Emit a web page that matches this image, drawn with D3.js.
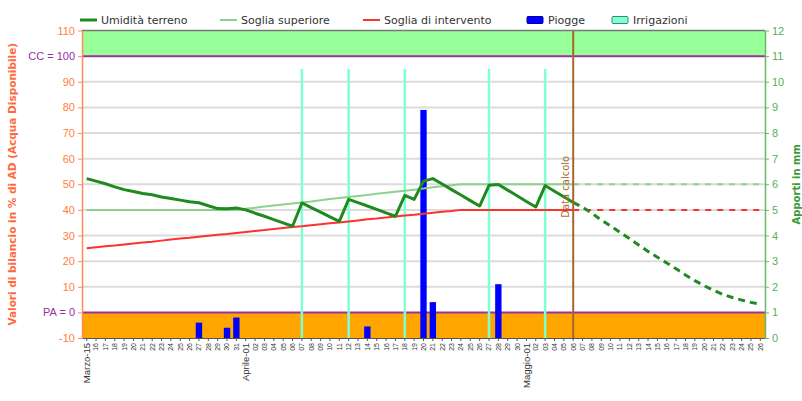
<!DOCTYPE html>
<html><head><meta charset="utf-8">
<script src="https://cdn.jsdelivr.net/npm/d3@7"></script>
<style>
body{margin:0;background:#fff}
svg{font-family:"DejaVu Sans",Verdana,sans-serif}
</style>
</head><body><svg id="c" width="802" height="401"></svg>
<script>
// ---- data ----
const dates = ["Marzo-15","16","17","18","19","20","21","22","23","24","25","26","27","28","29","30","31",
  "Aprile-01","02","03","04","05","06","07","08","09","10","11","12","13","14","15","16","17","18","19","20",
  "21","22","23","24","25","26","27","28","29","30",
  "Maggio-01","02","03","04","05","06","07","08","09","10","11","12","13","14","15","16","17","18","19","20",
  "21","22","23","24","25","26"];
// Umidità terreno (index 0..52, measured)
const umidita = [52.2,51.2,50.2,49.0,47.9,47.2,46.4,45.9,45.0,44.4,43.8,43.2,42.8,41.6,40.5,40.4,40.7,40.0,
  38.7,37.5,36.2,34.9,33.6,42.7,40.9,39.1,37.3,35.5,44.1,42.8,41.5,40.2,38.8,37.5,45.7,44.1,51.2,52.2,
  50.1,47.9,45.8,43.6,41.5,49.6,49.9,47.7,45.5,43.3,41.1,49.5,47.3,45.1,42.9];
// Umidità terreno forecast (index 52..72)
const previsione = [42.9,41.0,38.7,36.0,33.7,31.2,28.8,26.3,23.8,21.5,19.3,17.0,14.6,12.4,10.4,8.6,7.0,5.8,4.8,3.9,3.2];
const sogliaSuperiore = [40,40,40,40,40,40,40,40,40,40,40,40,40,40,40,40,40,40.4,40.8,41.3,41.7,42.1,42.5,42.9,
  43.3,43.8,44.2,44.6,45.0,45.4,45.8,46.3,46.7,47.1,47.5,47.9,48.3,48.8,49.2,49.6,50,50,50,50,50,50,50,50,50,
  50,50,50,50,50,50,50,50,50,50,50,50,50,50,50,50,50,50,50,50,50,50,50,50];
const sogliaIntervento = [25,25.4,25.8,26.1,26.5,26.9,27.3,27.6,28,28.4,28.8,29.1,29.5,29.9,30.3,30.6,31,31.4,
  31.8,32.1,32.5,32.9,33.3,33.6,34,34.4,34.8,35.1,35.5,35.9,36.3,36.6,37,37.4,37.8,38.1,38.5,38.9,39.3,39.6,
  40,40,40,40,40,40,40,40,40,40,40,40,40,40,40,40,40,40,40,40,40,40,40,40,40,40,40,40,40,40,40,40,40];
const pioggeGiorno = [12,15,16,30,36,37,44];
const pioggeMm = [0.6,0.4,0.8,0.45,8.9,1.4,2.1];
const irrigazioniGiorno = [23,28,34,43,49];
const irrigazioniMm = [10.5,10.5,10.5,10.5,10.5];
const dataCalcolo = 52;
const leftTicks = [-10,0,10,20,30,40,50,60,70,80,90,100,110];
const rightTicks = [0,1,2,3,4,5,6,7,8,9,10,11,12];

// ---- layout ----
const L=82,R=765,T=30.5,B=338;
const svg = d3.select('#c');
const x = d3.scaleBand().domain(d3.range(dates.length)).range([L,R]);
const xc = i => x(i)+x.bandwidth()/2;
const y = d3.scaleLinear().domain([-10,110]).range([B,T]);
const y2 = d3.scaleLinear().domain([0,12]).range([B,T]);

// bands
svg.append('rect').attr('x',L).attr('y',y(110)).attr('width',R-L).attr('height',y(100)-y(110)).attr('fill','#99ff99');
svg.append('rect').attr('x',L).attr('y',y(0)).attr('width',R-L).attr('height',y(-10)-y(0)).attr('fill','#ffa500');
// grid
svg.append('g').selectAll('line').data([10,20,30,40,50,60,70,80,90]).join('line')
  .attr('x1',L).attr('x2',R).attr('y1',d=>y(d)).attr('y2',d=>y(d)).attr('stroke','#dcdcdc').attr('stroke-width',2);
svg.append('line').attr('x1',L).attr('x2',R).attr('y1',y(110)).attr('y2',y(110)).attr('stroke','#777').attr('stroke-width',1.5);
svg.append('g').selectAll('line').data([100,0]).join('line')
  .attr('x1',L).attr('x2',R).attr('y1',d=>y(d)).attr('y2',d=>y(d)).attr('stroke','#9b30a0').attr('stroke-width',2);

// irrigations
svg.append('g').selectAll('rect').data(irrigazioniGiorno).join('rect')
  .attr('x',d=>xc(d)-1.25).attr('width',2.5)
  .attr('y',(d,k)=>y2(irrigazioniMm[k])).attr('height',(d,k)=>y2(0)-y2(irrigazioniMm[k]))
  .attr('fill','#7fffd4');
// rain
svg.append('g').selectAll('rect').data(pioggeGiorno).join('rect')
  .attr('x',d=>xc(d)-x.bandwidth()*0.34).attr('width',x.bandwidth()*0.68)
  .attr('y',(d,k)=>y2(pioggeMm[k])).attr('height',(d,k)=>y2(0)-y2(pioggeMm[k]))
  .attr('fill','#0000ff');

// threshold lines
const line = d3.line().x(d=>xc(d[0])).y(d=>y(d[1]));
const solid = arr => arr.map((v,i)=>[i,v]).filter(d=>d[0]<=dataCalcolo);
const dashed = arr => arr.map((v,i)=>[i,v]).filter(d=>d[0]>=dataCalcolo);
svg.append('path').attr('d',line(solid(sogliaSuperiore))).attr('fill','none').attr('stroke','#8fd08f').attr('stroke-width',2);
svg.append('path').attr('d',line(dashed(sogliaSuperiore))).attr('fill','none').attr('stroke','#8fd08f').attr('stroke-width',2).attr('stroke-dasharray','6,6');
svg.append('path').attr('d',line(solid(sogliaIntervento))).attr('fill','none').attr('stroke','#ff3030').attr('stroke-width',2);
svg.append('path').attr('d',line(dashed(sogliaIntervento))).attr('fill','none').attr('stroke','#ff3030').attr('stroke-width',2).attr('stroke-dasharray','6,6');
// umidita
svg.append('path').attr('d',line(umidita.map((v,i)=>[i,v]))).attr('fill','none').attr('stroke','#1f8a1f').attr('stroke-width',3).attr('stroke-linejoin','round');
svg.append('path').attr('d',line(previsione.map((v,k)=>[dataCalcolo+k,v]))).attr('fill','none').attr('stroke','#1f8a1f').attr('stroke-width',3).attr('stroke-dasharray','7,5');

// data calcolo
svg.append('line').attr('x1',xc(dataCalcolo)).attr('x2',xc(dataCalcolo)).attr('y1',T).attr('y2',B).attr('stroke','#a8652a').attr('stroke-width',2);
svg.append('text').attr('transform',`translate(${xc(dataCalcolo)-4},${y(49)}) rotate(-90)`)
  .attr('text-anchor','middle').attr('font-size',10).attr('fill','#a8703a').text('Data calcolo');

// axes
const ax = svg.append('g').attr('transform',`translate(0,${B})`)
  .call(d3.axisBottom(x).tickFormat(i=>dates[i]).tickSize(3).tickSizeOuter(0));
ax.select('.domain').attr('stroke','#555');
ax.selectAll('line').attr('stroke','#555');
ax.selectAll('text').attr('transform','rotate(-90)').attr('x',-5).attr('y',0).attr('dy','0.35em')
  .attr('text-anchor','end').attr('fill','#333')
  .attr('font-size',i=>dates[i].includes('-')?9.5:7);

const ay = svg.append('g').attr('transform',`translate(${L},0)`)
  .call(d3.axisLeft(y).tickValues(leftTicks).tickFormat(v=>v===100?'CC = 100':v===0?'PA = 0':v).tickSize(4).tickSizeOuter(0));
ay.select('.domain').attr('stroke','#ff8c5a').attr('stroke-width',1.5);
ay.selectAll('line').attr('stroke','#ff8c5a');
ay.selectAll('text').attr('font-size',11).attr('fill',v=>(v===100||v===0)?'#9b30a0':'#ff7f41');

const ay2 = svg.append('g').attr('transform',`translate(${R},0)`)
  .call(d3.axisRight(y2).tickValues(rightTicks).tickSize(4).tickSizeOuter(0));
ay2.select('.domain').attr('stroke','#66bb66').attr('stroke-width',1.5);
ay2.selectAll('line').attr('stroke','#66bb66');
ay2.selectAll('text').attr('font-size',11).attr('fill','#55b055');

svg.append('text').attr('transform',`translate(16,${(T+B)/2}) rotate(-90)`).attr('text-anchor','middle')
  .attr('font-size',10.5).attr('font-weight','bold').attr('fill','#ff6a3d').text('Valori di bilancio in % di AD (Acqua Disponibile)');
svg.append('text').attr('transform',`translate(800,${(T+B)/2}) rotate(-90)`).attr('text-anchor','middle')
  .attr('font-size',10).attr('font-weight','bold').attr('fill','#3a9a3a').text('Apporti in mm');

// legend
const legend = [
  {label:'Umidità terreno', type:'line', color:'#1f8a1f', x:80, w:3},
  {label:'Soglia superiore', type:'line', color:'#8fd08f', x:220, w:2},
  {label:'Soglia di intervento', type:'line', color:'#ff3030', x:363, w:2},
  {label:'Piogge', type:'rect', color:'#0000ff', x:527},
  {label:'Irrigazioni', type:'rect', color:'#7fffd4', x:612}
];
const lg = svg.append('g').selectAll('g').data(legend).join('g').attr('transform',d=>`translate(${d.x},20)`);
lg.filter(d=>d.type==='line').append('line').attr('x1',0).attr('x2',17).attr('stroke',d=>d.color).attr('stroke-width',d=>d.w);
lg.filter(d=>d.type==='rect').append('rect').attr('x',0).attr('y',-3.5).attr('width',16).attr('height',7).attr('rx',1)
  .attr('fill',d=>d.color).attr('stroke',d=>d.label==='Irrigazioni'?'#3a8a70':'#0000aa').attr('stroke-width',1);
lg.append('text').attr('x',21).attr('y',4).attr('font-size',11).attr('fill','#333').text(d=>d.label);
</script></body></html>
